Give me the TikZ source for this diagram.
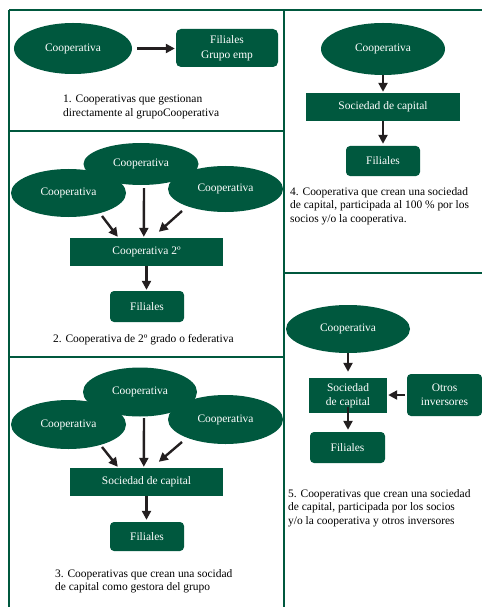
\documentclass[tikz,border=0pt]{standalone}
\usepackage{fontspec}
\setmainfont{Liberation Serif}
\usetikzlibrary{shapes.geometric,arrows.meta,calc}
\definecolor{dg}{RGB}{0,88,62}
\definecolor{ak}{RGB}{35,31,32}
\begin{document}
\begin{tikzpicture}[x=1bp,y=-1bp,
  every node/.style={font=\fontsize{11.5}{13.5}\selectfont},
  ell/.style={ellipse, fill=dg, text=white, inner sep=0pt},
  rbox/.style={rectangle, rounded corners=4bp, fill=dg, text=white, inner sep=0pt, align=center},
  sbox/.style={rectangle, fill=dg, text=white, inner sep=0pt, align=center},
  arr/.style={draw=ak, line width=2.4bp, -{Triangle[length=9bp,width=9bp]}},
  captext/.style={anchor=north west, inner sep=0pt, align=left, text=black},
  frame/.style={draw=dg, line width=1.3bp}]
\useasboundingbox (0,0) rectangle (482,607);

% frame lines
\draw[frame] (9,10) -- (482,10);
\draw[frame] (9,10) -- (9,607);
\draw[frame] (284,10) -- (284,357);
\draw[draw=dg, line width=2.5bp] (284,357) -- (284,607);
\draw[frame] (9,131) -- (284,131);
\draw[frame] (9,357) -- (284,357);
\draw[frame] (284,273) -- (482,273);

% panel 1
\node[ell, minimum width=118bp, minimum height=51bp] (e1) at (73,48.5) {Cooperativa};
\node[rbox, rounded corners=5bp, minimum width=102bp, minimum height=38bp,
      font=\fontsize{11.5}{15}\selectfont] (f1) at (227,48) {Filiales\\Grupo emp};
\draw[arr, shorten <=5bp, shorten >=1bp] (e1.east) -- (e1.east -| f1.west);
\node[captext] (c1) at (63,95) {1. Cooperativas que gestionan\\directamente al grupoCooperativa};

% panel 2
\node[ell, minimum width=115bp, minimum height=42bp] (t2) at (141,164) {Cooperativa};
\node[ell, minimum width=115bp, minimum height=48bp] (l2) at (68.5,193) {Cooperativa};
\node[ell, minimum width=115bp, minimum height=46bp] (r2) at (225.5,189) {Cooperativa};
\node[sbox, minimum width=153bp, minimum height=28bp] (c2) at (146.5,252) {Cooperativa 2º};
\node[rbox, minimum width=74bp, minimum height=31bp] (f2) at (147,306.5) {Filiales};
\draw[arr] ($(l2.center)+(33.5,23)$) -- ($(c2.north west)+(48,-1)$);
\draw[arr] ($(t2.south)+(3,3)$) -- ($(c2.north west)+(74,-1)$);
\draw[arr] ($(r2.center)+(-43.5,22)$) -- ($(c2.north west)+(89,-6)$);
\draw[arr, shorten >=1bp] (c2.south) -- (c2.south |- f2.north);
\node[captext] (cap2) at (53,334) {2. Cooperativa de 2º grado o federativa};

% panel 3
\node[ell, minimum width=114bp, minimum height=49bp] (t3) at (140,392) {Cooperativa};
\node[ell, minimum width=115bp, minimum height=49bp] (l3) at (68.5,424.5) {Cooperativa};
\node[ell, minimum width=115bp, minimum height=49bp] (r3) at (225.5,419.5) {Cooperativa};
\node[sbox, minimum width=153bp, minimum height=28bp] (s3) at (146.5,482) {Sociedad de capital};
\node[rbox, minimum width=74bp, minimum height=29bp] (f3) at (147,536.5) {Filiales};
\draw[arr] ($(l3.center)+(33.5,22.5)$) -- ($(s3.north west)+(48,-1)$);
\draw[arr] ($(t3.south)+(4,1.5)$) -- ($(s3.north west)+(74,-1)$);
\draw[arr] ($(r3.center)+(-43.5,22.5)$) -- ($(s3.north west)+(89,-6)$);
\draw[arr, shorten >=2bp] (s3.south) -- (s3.south |- f3.north);
\node[captext] (cap3) at (55,569) {3. Cooperativas que crean una socidad\\de capital como gestora del grupo};

% panel 4
\node[ell, minimum width=124bp, minimum height=52bp] (e4) at (383,49) {Cooperativa};
\node[sbox, minimum width=154bp, minimum height=28bp] (s4) at (383,107) {Sociedad de capital};
\node[rbox, minimum width=74bp, minimum height=30bp] (f4) at (383,161) {Filiales};
\draw[arr, shorten >=1bp] (e4.south) -- (s4.north);
\draw[arr, shorten >=2bp] (s4.south) -- (f4.north);
\node[captext] (cap4) at (290,187) {4. Cooperativa que crean una sociedad\\de capital, participada al 100 \% por los\\socios y/o la cooperativa.};

% panel 5
\node[ell, minimum width=124bp, minimum height=48bp] (e5) at (348,329) {Cooperativa};
\node[sbox, minimum width=78bp, minimum height=35bp,
      font=\fontsize{11.5}{14}\selectfont] (s5) at (348,395.5) {Sociedad\\de capital};
\node[rbox, minimum width=75bp, minimum height=42bp,
      font=\fontsize{11.5}{14}\selectfont] (o5) at (444.5,395) {Otros\\inversores};
\node[rbox, minimum width=75bp, minimum height=31bp] (f5) at (347.5,447.5) {Filiales};
\draw[arr, shorten >=6bp] (e5.south) -- (e5.south |- s5.north);
\draw[arr, shorten <=2bp, shorten >=1bp] (o5.west) -- (o5.west -| s5.east);
\draw[arr, shorten >=2bp] ([yshift=6bp]s5.south) -- (s5.south |- f5.north);
\node[captext] (cap5) at (288,489) {5. Cooperativas que crean una sociedad\\de capital, participada por los socios\\y/o la cooperativa y otros inversores};
\end{tikzpicture}
\end{document}
